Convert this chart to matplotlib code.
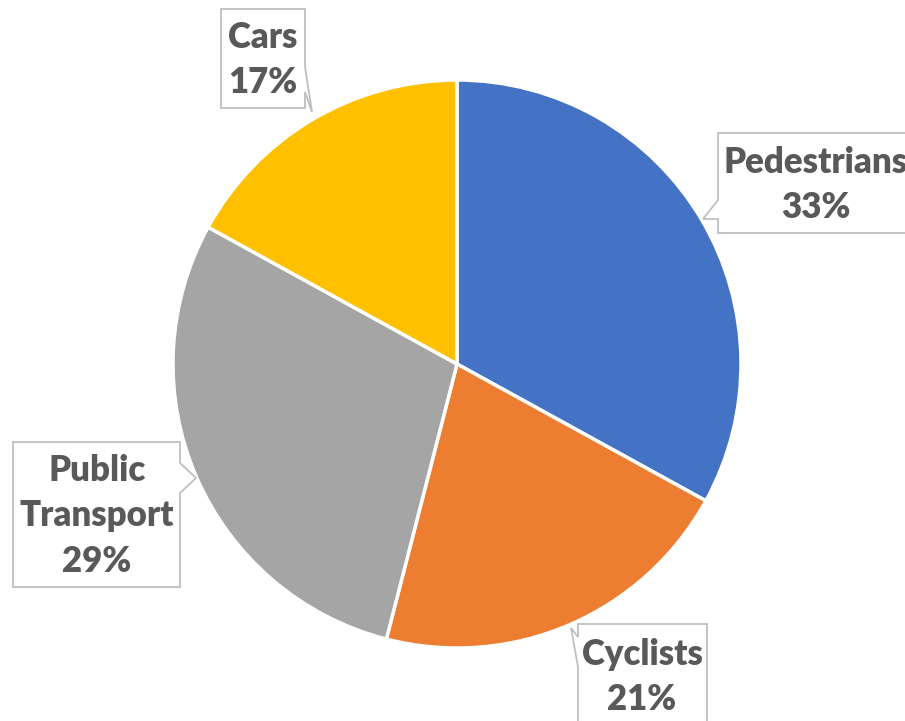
import matplotlib
matplotlib.use('Agg')
import matplotlib.pyplot as plt
from matplotlib.patches import Polygon

labels = ['Pedestrians', 'Cyclists', 'Public\nTransport', 'Cars']
values = [33, 21, 29, 17]
colors = ['#4472C4', '#ED7D31', '#A5A5A5', '#FFC000']

W, H = 905, 721
fig = plt.figure(figsize=(W / 100, H / 100), dpi=100)
ax = fig.add_axes([0, 0, 1, 1])

# pie in pixel-like coords (y flipped later)
ax.pie(values, colors=colors, startangle=90, counterclock=False,
       center=(457, H - 364), radius=284,
       wedgeprops=dict(edgecolor='white', linewidth=2.5))

def py(y):
    return H - y

# callout outlines, pixel coords from top-left
boxes = [
    [(718, 133), (920, 133), (920, 233), (718, 233), (718, 219), (703, 219), (718, 200)],
    [(578, 624), (707, 624), (707, 740), (578, 740), (578, 667), (571, 628), (578, 637)],
    [(13, 442), (180, 442), (180, 463), (196, 478), (180, 493), (180, 587), (13, 587)],
    [(221, 9), (305, 9), (305, 67), (312, 112), (305, 92), (305, 108), (221, 108)],
]
text_pos = [(816, 185), (642, 677), (97, 516), (263, 60)]

for pts, (tx, ty), lab, v in zip(boxes, text_pos, labels, values):
    poly = Polygon([(x, py(y)) for x, y in pts], closed=True,
                   facecolor='white', edgecolor='#BFBFBF', linewidth=1.3, zorder=3)
    ax.add_patch(poly)
    ax.text(tx, py(ty), f'{lab}\n{v}%', ha='center', va='center',
            multialignment='center', fontsize=25, fontweight='heavy',
            color='#595959', family='Lato', linespacing=1.45, zorder=4)

ax.set_xlim(0, W)
ax.set_ylim(0, H)
ax.set_aspect('auto')
ax.axis('off')
fig.savefig('out.png', dpi=100)
